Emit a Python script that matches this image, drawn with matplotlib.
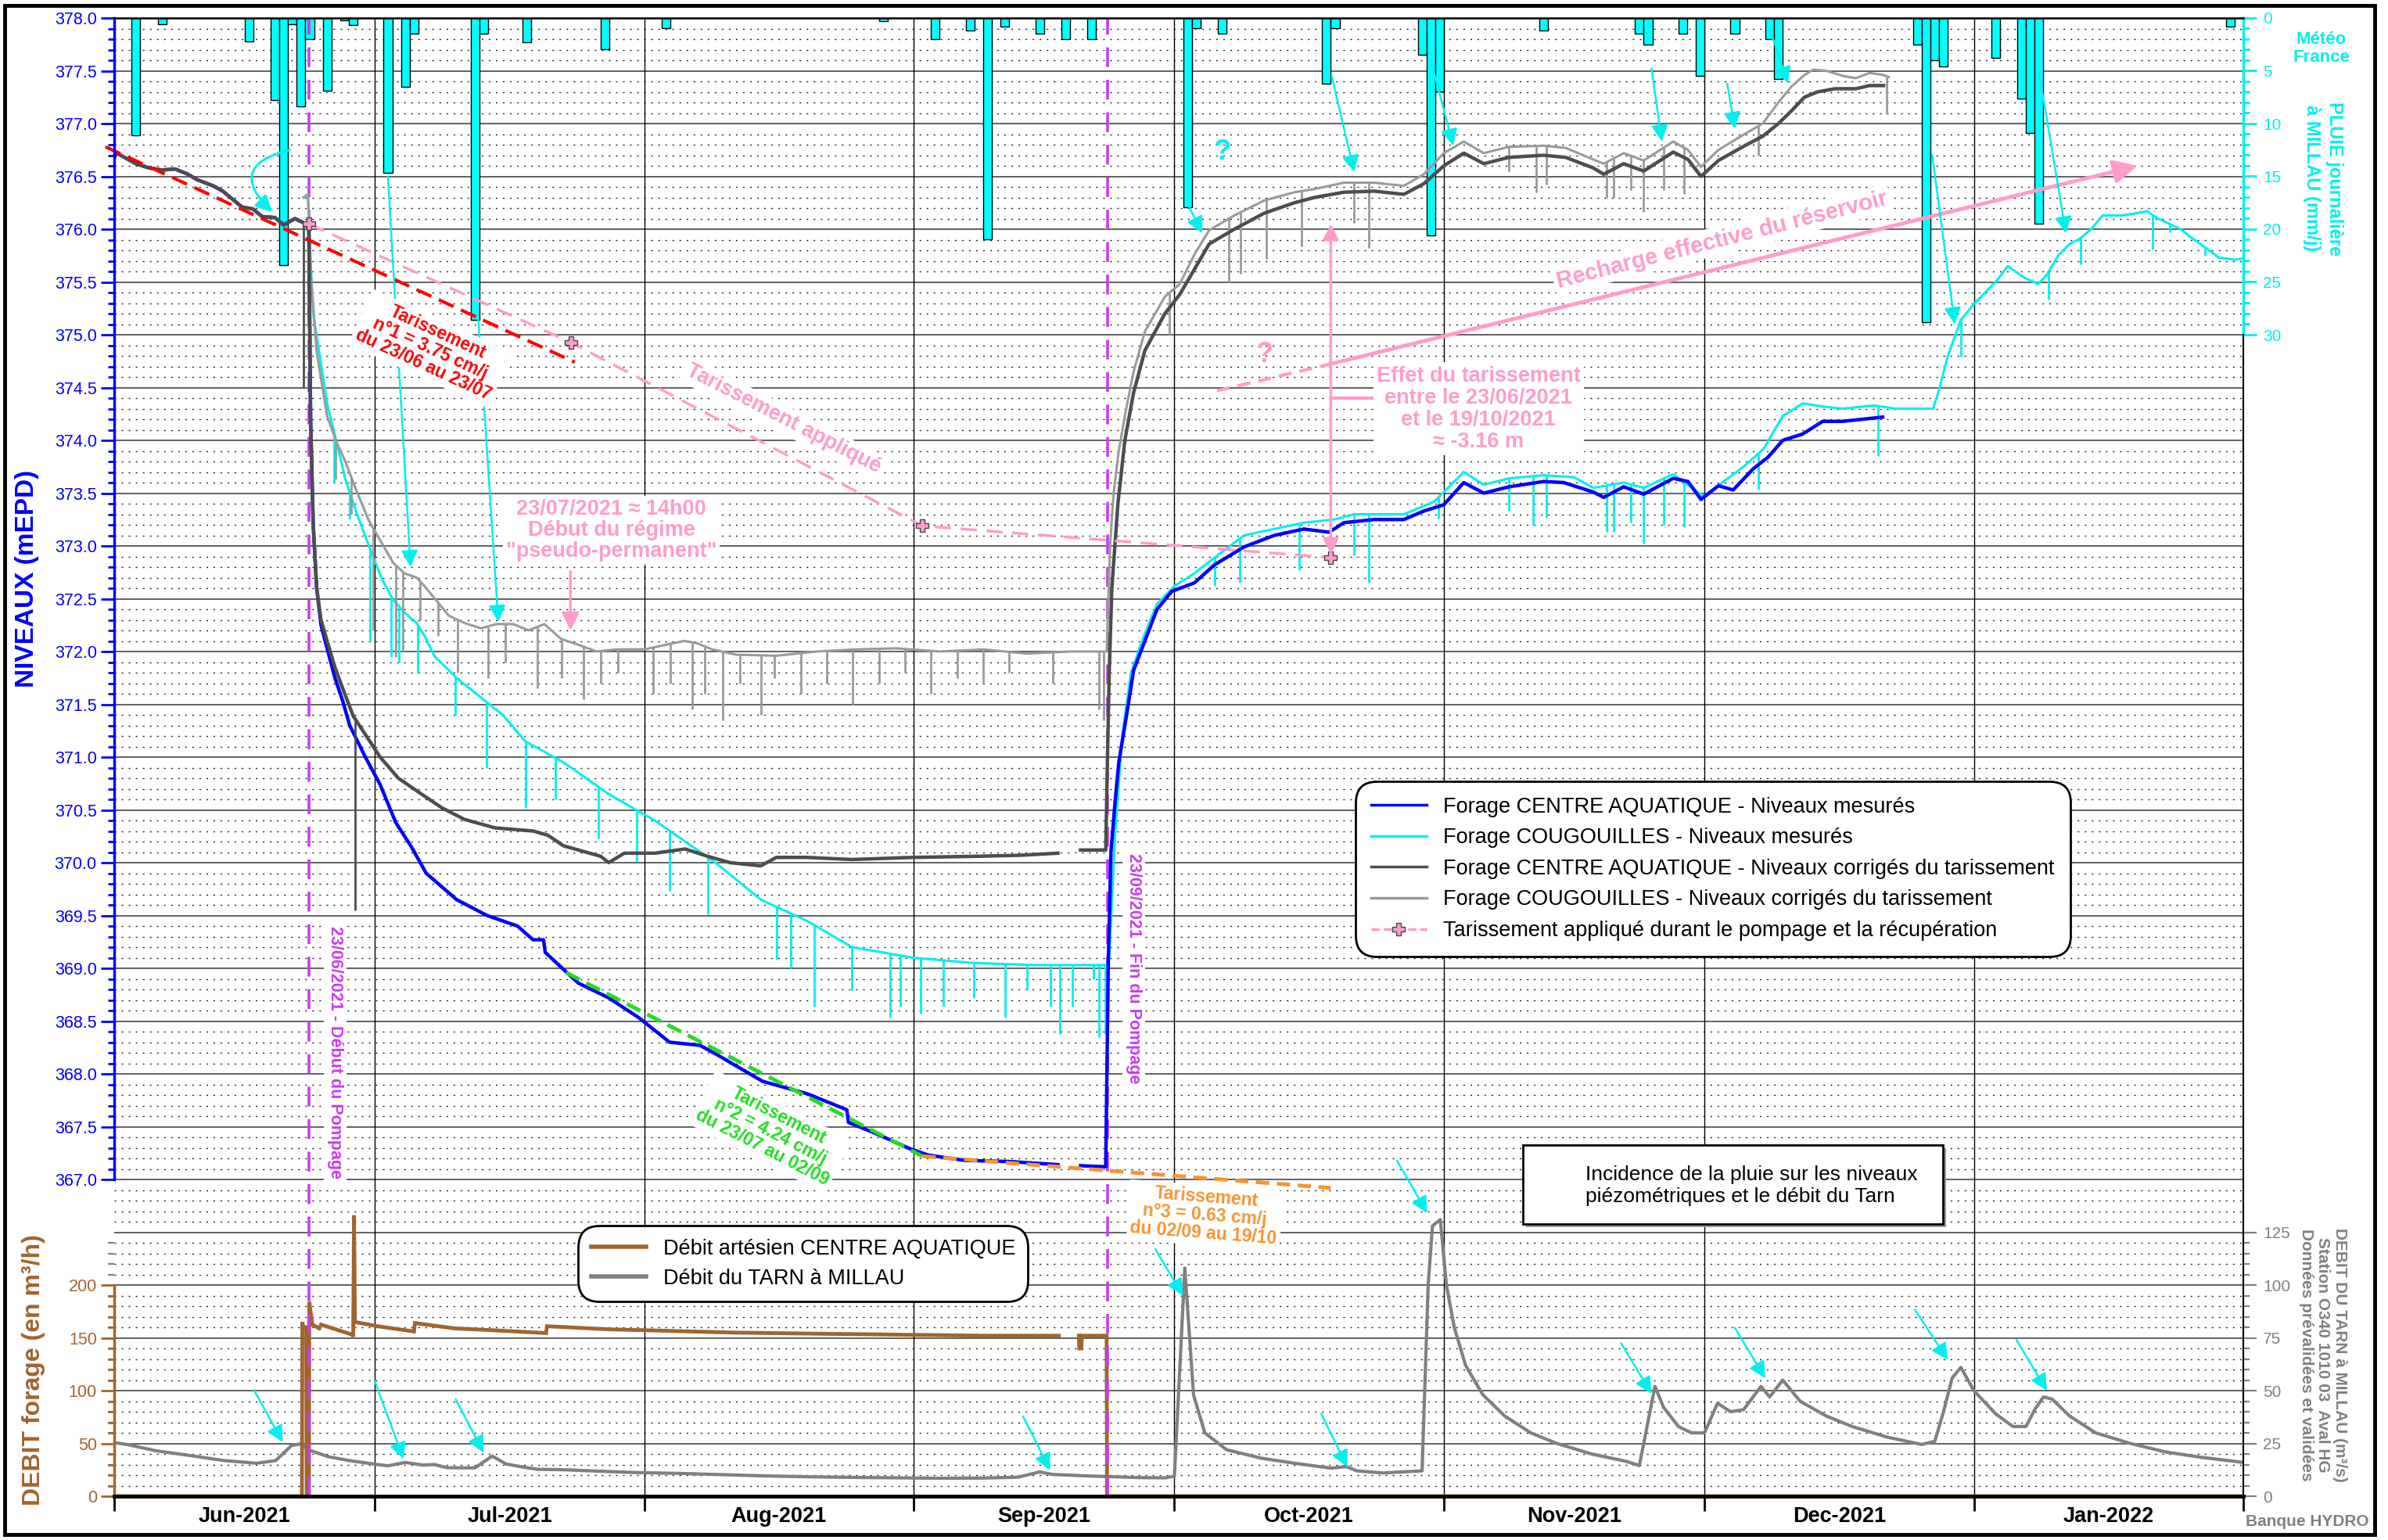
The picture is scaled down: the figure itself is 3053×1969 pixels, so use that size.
import matplotlib
matplotlib.use("Agg")
import matplotlib.dates as mdates
import matplotlib.pyplot as plt
import numpy as np
import pandas as pd
from matplotlib.lines import Line2D
from matplotlib.patches import Rectangle

plt.rcParams["font.family"] = ["Liberation Sans", "DejaVu Sans"]

START = pd.Timestamp("2021-06-01")
END = pd.Timestamp("2022-02-01")
PUMP_START = 22.4   # 23/06/2021 (days after 01/06/2021)
PUMP_END = 114.3    # 23/09/2021

# daily rain at Millau, (day index, mm)
rain = [(2, 11.1), (5, 0.6), (15, 2.2), (18, 7.8), (19, 23.4), (20, 0.6), (21, 8.4),
        (22, 2.0), (24, 6.9), (26, 0.2), (27, 0.7), (31, 14.7), (33, 6.5), (34, 1.5),
        (41, 28.6), (42, 1.5), (47, 2.3), (56, 3.0), (63, 1.0), (88, 0.3), (94, 2.0),
        (98, 1.2), (100, 21.0), (102, 0.8), (106, 1.5), (109, 2.0), (112, 2.0),
        (123, 17.9), (124, 1.0), (127, 1.5), (139, 6.2), (140, 1.0), (150, 3.5),
        (151, 20.6), (152, 7.0), (164, 1.2), (175, 1.5), (176, 2.5), (180, 1.5),
        (182, 5.5), (186, 1.5), (190, 2.0), (191, 5.8), (207, 2.5), (208, 28.8),
        (209, 4.0), (210, 4.6), (216, 3.8), (219, 7.6), (220, 10.9), (221, 19.5),
        (243, 0.8)]

# levels before pumping (both CENTRE AQUATIQUE series)
pre_pump = [(0, 376.68), (0.3, 376.72), (2.5, 376.62), (4, 376.58), (5.5, 376.56),
            (7, 376.57), (8.5, 376.52), (9.5, 376.47), (11.4, 376.41), (12.5, 376.36),
            (14.7, 376.21), (16, 376.19), (17, 376.12), (18.5, 376.11), (19.5, 376.04),
            (20.8, 376.1), (21.8, 376.06), (22.3, 376.02)]

centre_mes = [(22.4, 376.02), (22.6, 374.2), (22.9, 373.2), (23.3, 372.6), (23.8, 372.25),
              (24.5, 372.03), (25.4, 371.75), (26.3, 371.53), (27.1, 371.3), (28.9, 371.0),
              (30.6, 370.74), (32.4, 370.38), (34.2, 370.15), (35.9, 369.9), (39.4, 369.65),
              (42.9, 369.5), (46.4, 369.4), (48.2, 369.27), (49.4, 369.27), (49.6, 369.15),
              (53.4, 368.86), (56.9, 368.72), (60.4, 368.53), (63.9, 368.3), (67.4, 368.27),
              (69.4, 368.18), (74.6, 367.93), (79.8, 367.81), (84.3, 367.66), (84.5, 367.54),
              (87.5, 367.44), (91.6, 367.29), (93.7, 367.23), (97.9, 367.18), (103.0, 367.17),
              (108.6, 367.14), (110.0, np.nan), (111.2, 367.13), (114.1, 367.12),
              (114.4, 369.1), (114.7, 370.1), (115.2, 370.6), (115.6, 370.95), (116.5, 371.4),
              (117.3, 371.82), (118.6, 372.1), (120.0, 372.4), (121.7, 372.57), (124.3, 372.65),
              (126.6, 372.82), (130.0, 372.99), (133.5, 373.1), (136.9, 373.16), (139.8, 373.13),
              (141.5, 373.22), (145.0, 373.25), (148.4, 373.25), (150.7, 373.33), (153.0, 373.39),
              (155.3, 373.6), (157.6, 373.5), (160.5, 373.56), (164.5, 373.61), (166.8, 373.6),
              (170.2, 373.51), (171.4, 373.46), (173.7, 373.56), (176.0, 373.49), (179.4, 373.64),
              (181.1, 373.61), (182.6, 373.44), (184.6, 373.57), (186.3, 373.53), (188.6, 373.73),
              (190.3, 373.84), (192.0, 374.0), (194.3, 374.06), (196.6, 374.18), (198.9, 374.18),
              (201.2, 374.2), (203.5, 374.22)]

centre_cor = [(22.4, 376.02), (22.6, 374.2), (22.9, 373.2), (23.3, 372.6), (23.8, 372.3),
              (24.5, 372.1), (25.4, 371.85), (26.3, 371.65), (27.5, 371.39), (30.6, 371.0),
              (32.7, 370.8), (35.0, 370.67), (37.7, 370.52), (40.3, 370.41), (43.8, 370.33),
              (48.2, 370.3), (49.9, 370.26), (51.7, 370.16), (56.0, 370.06), (56.9, 370.0),
              (58.7, 370.09), (62.2, 370.09), (65.7, 370.13), (68.3, 370.06), (70.9, 370.0),
              (74.4, 369.97), (76.2, 370.05), (79.7, 370.05), (84.9, 370.03), (91.9, 370.05),
              (98.9, 370.06), (104.2, 370.07), (108.6, 370.09), (110.0, np.nan), (111.2, 370.12),
              (114.1, 370.12), (114.3, 371.0), (114.5, 371.8), (114.8, 372.6), (115.5, 373.4),
              (116.3, 374.0), (117.3, 374.45), (118.6, 374.85), (120.9, 375.2), (122.6, 375.38),
              (124.3, 375.62), (126.0, 375.86), (128.9, 376.0), (132.3, 376.15), (135.8, 376.25),
              (138.1, 376.3), (141.5, 376.35), (145.0, 376.36), (148.4, 376.33), (150.7, 376.43),
              (153.0, 376.6), (155.3, 376.72), (157.6, 376.62), (160.5, 376.68), (164.5, 376.7),
              (167.0, 376.68), (170.2, 376.58), (171.4, 376.52), (173.7, 376.62), (176.0, 376.55),
              (179.4, 376.73), (181.1, 376.66), (182.6, 376.5), (184.6, 376.65), (187.4, 376.78),
              (189.7, 376.88), (191.5, 377.0), (193.0, 377.12), (194.5, 377.25), (196.0, 377.3),
              (198.0, 377.33), (200.4, 377.33), (202.0, 377.36), (203.6, 377.36)]
centre_cor_spikes = [(21.8, 374.5), (27.7, 369.55)]

cougouilles_mes = [(21.8, 376.3), (22.3, 376.33), (22.6, 375.7), (22.9, 375.2), (23.8, 374.72),
                   (24.5, 374.35), (25.6, 373.98), (26.6, 373.63), (27.9, 373.31), (29.5, 372.96),
                   (30.9, 372.67), (32.1, 372.49), (33.4, 372.37), (34.8, 372.27), (35.7, 372.15),
                   (36.9, 371.95), (39.4, 371.75), (44.7, 371.4), (47.3, 371.15), (51.7, 370.95),
                   (56.9, 370.65), (62.2, 370.4), (69.2, 370.0), (74.4, 369.65), (79.7, 369.45),
                   (84.9, 369.2), (91.9, 369.1), (98.9, 369.05), (105.9, 369.03), (114.2, 369.03),
                   (114.5, 369.1), (115.2, 370.3), (116.0, 371.2), (117.0, 371.8), (118.5, 372.15),
                   (120.0, 372.45), (122.0, 372.62), (124.3, 372.74), (126.0, 372.85), (130.0, 373.1),
                   (136.9, 373.22), (140.4, 373.25), (142.7, 373.3), (148.4, 373.3), (151.9, 373.42),
                   (155.3, 373.7), (157.6, 373.58), (160.5, 373.64), (164.5, 373.67), (168.0, 373.65),
                   (170.2, 373.55), (173.7, 373.6), (176.0, 373.55), (179.4, 373.68), (182.9, 373.47),
                   (185.2, 373.61), (187.5, 373.75), (189.8, 373.92), (192.0, 374.23), (194.3, 374.35),
                   (196.6, 374.32), (198.9, 374.3), (202.5, 374.33), (205.0, 374.3), (207.0, 374.3),
                   (209.3, 374.3), (210.0, 374.48), (211.0, 374.8), (212.5, 375.14), (214.0, 375.29),
                   (216.6, 375.51), (217.9, 375.65), (219.8, 375.54), (221.4, 375.48), (222.4, 375.57),
                   (223.7, 375.75), (225.0, 375.86), (226.2, 375.91), (227.5, 376.0), (228.8, 376.13),
                   (231.0, 376.13), (232.6, 376.15), (233.9, 376.17), (235.2, 376.1), (236.5, 376.05),
                   (237.8, 376.0), (239.0, 375.92), (240.6, 375.83), (242.2, 375.73), (244.1, 375.71),
                   (244.9, 375.72)]
cougouilles_mes_spikes = [(25.3, 373.6), (27.1, 373.25), (29.4, 372.1), (31.9, 371.95), (32.8, 371.9),
                          (34.9, 371.8), (39.2, 371.4), (42.8, 370.9), (47.3, 370.52), (50.8, 370.6),
                          (55.7, 370.23), (60.1, 370.01), (63.9, 369.73), (68.3, 369.51), (76.2, 369.08),
                          (77.9, 369.0), (80.6, 368.64), (84.9, 368.79), (89.3, 368.53), (90.5, 368.64),
                          (92.8, 368.57), (95.4, 368.64), (98.9, 368.72), (102.5, 368.53), (105.0, 368.8),
                          (107.7, 368.64), (108.8, 368.38), (110.3, 368.64), (112.7, 368.9), (113.3, 368.35),
                          (114.0, 368.38), (126.6, 372.62), (129.5, 372.65), (136.4, 372.77), (142.7, 372.91),
                          (144.4, 372.65), (152.4, 373.26), (160.5, 373.33), (163.3, 373.2), (164.8, 373.27),
                          (171.7, 373.13), (172.5, 373.13), (174.5, 373.22), (176.0, 373.02), (178.3, 373.2),
                          (180.6, 373.18), (189.2, 373.53), (203.0, 373.85), (212.5, 374.79), (222.6, 375.33),
                          (226.3, 375.67), (234.6, 375.81), (236.5, 375.97), (240.6, 375.75)]

cougouilles_cor = [(21.8, 376.3), (22.3, 376.33), (22.6, 375.6), (23.3, 374.84), (24.5, 374.23),
                   (25.6, 373.98), (26.6, 373.8), (27.7, 373.56), (29.3, 373.24), (30.7, 373.04),
                   (32.1, 372.84), (33.4, 372.74), (34.8, 372.7), (35.7, 372.62), (36.9, 372.5),
                   (38.5, 372.34), (40.3, 372.27), (42.2, 372.22), (44.0, 372.26), (45.9, 372.26),
                   (47.7, 372.2), (49.5, 372.26), (51.4, 372.12), (53.2, 372.07), (55.5, 372.0),
                   (57.8, 372.02), (61.0, 372.02), (63.8, 372.07), (65.6, 372.1), (67.0, 372.08),
                   (68.8, 372.02), (71.6, 371.97), (76.2, 371.96), (80.8, 372.0), (85.4, 372.02),
                   (90.0, 372.03), (95.0, 372.0), (100.0, 372.02), (105.0, 371.98), (110.0, 372.0),
                   (114.2, 372.0), (114.6, 373.0), (115.0, 373.5), (115.6, 373.9), (116.3, 374.23),
                   (117.3, 374.65), (118.6, 375.03), (120.9, 375.36), (122.6, 375.48), (124.3, 375.76),
                   (126.0, 375.99), (128.9, 376.13), (132.3, 376.27), (135.8, 376.35), (138.1, 376.38),
                   (141.5, 376.44), (145.0, 376.44), (148.4, 376.41), (150.7, 376.52), (153.0, 376.72),
                   (155.3, 376.83), (157.6, 376.72), (160.5, 376.78), (164.5, 376.79), (167.0, 376.77),
                   (170.2, 376.66), (171.4, 376.62), (173.7, 376.72), (176.0, 376.65), (179.4, 376.83),
                   (181.1, 376.75), (182.6, 376.59), (184.6, 376.75), (187.4, 376.89), (189.7, 377.0),
                   (191.5, 377.2), (193.0, 377.35), (194.5, 377.46), (195.5, 377.51), (197.0, 377.5),
                   (199.0, 377.45), (200.4, 377.43), (202.0, 377.48), (203.6, 377.46), (204.2, 377.44)]
cougouilles_cor_spikes = [(25.5, 373.63), (27.3, 373.3), (29.8, 372.2), (32.4, 371.95), (33.2, 372.0),
                          (35.2, 372.3), (37.3, 372.15), (39.5, 371.8), (43.0, 371.75), (45.0, 371.9),
                          (48.7, 371.65), (51.5, 371.75), (54.0, 371.55), (56.0, 371.7), (58.0, 371.8),
                          (62.0, 371.6), (64.0, 371.7), (66.5, 371.45), (68.0, 371.6), (70.0, 371.35),
                          (72.0, 371.7), (74.4, 371.4), (76.0, 371.75), (79.0, 371.6), (82.0, 371.7),
                          (85.0, 371.5), (88.0, 371.7), (91.0, 371.8), (94.0, 371.6), (97.0, 371.75),
                          (100.0, 371.7), (103.0, 371.8), (108.0, 371.7), (113.3, 371.45), (113.9, 371.35),
                          (121.4, 375.0), (128.3, 375.5), (129.6, 375.58), (132.6, 375.72), (136.6, 375.84),
                          (142.7, 376.06), (144.4, 375.82), (160.5, 376.55), (163.6, 376.35), (164.8, 376.42),
                          (171.7, 376.3), (172.5, 376.3), (174.5, 376.37), (176.0, 376.16), (178.3, 376.37),
                          (180.6, 376.33), (189.2, 376.7), (204.0, 377.09)]

# artesian flow of the CENTRE AQUATIQUE well (m3/h)
forage = [(0, 0), (21.6, 0), (21.65, 165), (21.75, 160), (22.1, 160), (22.15, 0), (22.4, 0),
          (22.45, 184), (22.8, 162.5), (23.6, 159), (23.8, 162.5), (27.4, 153), (27.5, 151),
          (27.6, 266), (27.7, 165), (30.3, 161), (34.5, 156), (34.6, 164), (39.1, 159),
          (44.0, 157), (49.7, 154.5), (49.8, 161), (57.0, 158), (62.0, 157), (71.0, 155),
          (80.0, 154), (90.0, 153), (100.0, 152), (108.7, 152), (109.0, np.nan), (111.0, 152),
          (111.05, 140), (111.3, 140), (111.35, 152), (114.2, 152), (114.25, 0), (245, 0)]

# Tarn flow at Millau (m3/s)
tarn = [(0, 25.4), (1.6, 24.4), (4.8, 21.5), (8.5, 19.4), (12.6, 16.9), (16.4, 15.6), (18.6, 16.9),
        (20.4, 24.0), (21.4, 24.75), (22.4, 21.9), (24.6, 18.75), (27.0, 16.9), (30.3, 15.0),
        (31.5, 14.4), (33.5, 16.0), (35.5, 14.75), (36.8, 15.0), (38.3, 13.5), (41.5, 13.4),
        (43.5, 19.0), (45.1, 15.25), (47.1, 13.75), (48.7, 12.75), (52, 12.5), (56, 11.8),
        (60, 11.2), (65, 10.8), (70, 10.2), (75, 9.6), (80, 9.2), (85, 8.9), (90, 8.7), (95, 8.5),
        (100, 8.6), (104, 9.0), (106.5, 11.5), (108, 10.3), (112, 9.6), (118, 8.8), (121, 8.7),
        (122, 9.5), (123.2, 108), (124.2, 48), (125.5, 30), (128, 22), (132, 18), (136, 15.5),
        (140, 13.3), (141.8, 14), (143, 12), (146, 11), (150.5, 12), (151.2, 100), (151.7, 128),
        (152.6, 131), (153.3, 100), (154.2, 80), (155.5, 62), (157.5, 48), (160, 38), (163, 30),
        (166, 25), (170, 20), (174, 16.5), (175.5, 14.5), (177.3, 52), (178.3, 42), (180, 33),
        (181.5, 30), (183, 30), (184.5, 44), (186, 40), (187.5, 41), (189.5, 52), (190.5, 47),
        (192, 55), (194, 45), (197, 38), (200, 33), (204, 28), (208, 24.5), (209.5, 26),
        (210.5, 40), (211.5, 56), (212.5, 61), (214, 50), (216.5, 39), (218.5, 33), (220, 33),
        (221, 41), (222, 47), (223, 46), (225, 38), (228, 30), (232, 25), (236, 21), (240, 18.5),
        (245, 16)]

# drawdown trends (day, level)
tar1 = [(-1.0, 376.78), (53.0, 374.74)]
tar2 = [(52.0, 368.96), (93.0, 367.22)]
tar3 = [(93.0, 367.22), (140.0, 366.92)]
tar_applique = [(22.4, 376.05), (52.6, 374.925), (93.0, 373.19), (140.0, 372.89)]
recharge_dash = [(126.9, 374.47), (139.8, 374.72)]
recharge_arrow = [(139.8, 374.72), (232.8, 376.6)]

# rain incidence arrows, upper panel (levels) and lower panel (Tarn flow)
rain_arrows_lvl = [(31.5, 376.5, 34.1, 372.8), (41.9, 375.15, 44.2, 372.28),
                   (123.7, 376.21, 125.2, 375.96), (140.1, 377.45, 142.7, 376.54),
                   (151.5, 377.6, 154.1, 376.79), (176.9, 377.52, 178.1, 376.83),
                   (185.6, 377.38, 186.5, 376.95), (190.5, 377.9, 192.6, 377.38),
                   (209.2, 376.7, 211.8, 375.1), (221.5, 377.48, 224.6, 375.96)]
rain_arrows_q = [(16.1, 50.2, 19.4, 25.5), (30.0, 54.3, 33.3, 17.5), (39.3, 45.9, 42.5, 20.6),
                 (104.6, 37.7, 107.7, 12.3), (119.8, 117, 123.0, 95), (138.9, 39, 141.9, 13.8),
                 (147.6, 159, 151.1, 134), (173.4, 72.5, 176.9, 48.5), (186.5, 79.7, 190.0, 55.8),
                 (207.2, 88.4, 211.0, 64.5), (218.9, 74, 222.4, 50)]

BLUE = "#0000ff"
CYAN = "#00efef"
BAR = "#00ffff"
DARK = "#4d4d4d"
LIGHT = "#9a9a9a"
TARN = "#808080"
BROWN = "#a0652e"
PINK = "#ff9cca"
PURPLE = "#c83cf2"
RED = "#ff0000"
GREEN = "#22dd22"
ORANGE = "#f7942f"

X0 = mdates.date2num(START)


def xd(days):
    return X0 + np.asarray(days, dtype=float)


def xy(pairs):
    arr = np.array(pairs, dtype=float)
    return xd(arr[:, 0]), arr[:, 1]


def curve_at(pairs, days):
    arr = np.array(pairs, dtype=float)
    ok = ~np.isnan(arr[:, 1])
    return np.interp(days, arr[ok, 0], arr[ok, 1])


W_PX, H_PX = 3053, 1969
fig = plt.figure(figsize=(W_PX / 100, H_PX / 100), dpi=100)
rect = [146 / W_PX, 1 - 1913 / H_PX, (2868 - 146) / W_PX, (1913 - 23) / H_PX]

ax_bg = fig.add_axes(rect, zorder=0)
ax_r = fig.add_axes(rect, zorder=1)
ax_q = fig.add_axes(rect, zorder=2)
ax_f = fig.add_axes(rect, zorder=2)
ax = fig.add_axes(rect, zorder=3)

xmin, xmax = mdates.date2num(START), mdates.date2num(END)
for a in (ax_bg, ax_r, ax_q, ax_f, ax):
    a.set_xlim(xmin, xmax)
    a.set_facecolor("none")
    for s in a.spines.values():
        s.set_visible(False)
    a.tick_params(bottom=False, labelbottom=False, left=False, labelleft=False)
ax_bg.set_facecolor("white")

# background grid
ax_bg.set_ylim(364, 378)
major = np.arange(364.5, 378, 0.5)
minor = [v for v in np.round(np.arange(364.1, 378, 0.1), 1) if abs(v * 2 - round(v * 2)) > 1e-6]
ax_bg.hlines(minor, xmin, xmax, colors="#222222", lw=1.0, linestyles=(0, (1.5, 5)))
ax_bg.hlines(major, xmin, xmax, colors="#555555", lw=1.3)
month_starts = pd.date_range(START, END, freq="MS")
ax_bg.vlines(mdates.date2num(month_starts[1:-1]), 364, 378, colors="black", lw=1.0)
ax_bg.set_yticks([])
ax_bg.set_xticks([])

# rain bars hanging from the top
ax_r.set_ylim(140, 0)
r = np.array(rain, dtype=float)
ax_r.bar(xd(r[:, 0]), r[:, 1], width=1.0, align="edge", color=BAR, edgecolor="black", lw=1.0)
ax_r.spines["right"].set_visible(True)
ax_r.spines["right"].set_bounds(0, 30)
ax_r.spines["right"].set_color(CYAN)
ax_r.spines["right"].set_linewidth(2.5)
ax_r.set_yticks(np.arange(0, 31, 5))
ax_r.set_yticks(np.arange(0, 31, 1), minor=True)
ax_r.tick_params(axis="y", which="both", right=True, labelright=True, left=False, labelleft=False,
                 colors=CYAN, direction="out")
ax_r.tick_params(axis="y", which="major", length=12, width=2, labelsize=15, pad=6)
ax_r.tick_params(axis="y", which="minor", length=6, width=2, labelright=False)

# Tarn flow
ax_q.set_ylim(0, 700)
tq = np.array(tarn, dtype=float)
ax_q.plot(xd(tq[:, 0]), tq[:, 1], color=TARN, lw=3)
ax_q.spines["right"].set_visible(True)
ax_q.spines["right"].set_bounds(0, 125)
ax_q.spines["right"].set_color("black")
ax_q.spines["right"].set_linewidth(1.5)
ax_q.set_yticks(np.arange(0, 126, 25))
ax_q.set_yticks(np.arange(0, 126, 5), minor=True)
ax_q.tick_params(axis="y", which="both", right=True, labelright=True, colors=TARN, direction="out")
ax_q.tick_params(axis="y", which="major", length=12, width=1.6, labelsize=15, pad=6)
ax_q.tick_params(axis="y", which="minor", length=6, width=1.6, labelright=False)
for x0, q0, x1, q1 in rain_arrows_q:
    ax_q.annotate("", xy=(xd(x1), q1), xytext=(xd(x0), q0),
                  arrowprops=dict(arrowstyle="-|>", color=CYAN, lw=1.8, mutation_scale=32,
                                  shrinkA=0, shrinkB=0))

# artesian flow of the well
ax_f.set_ylim(0, 1400)
fx, fy = xy(forage)
ax_f.plot(fx, fy, color=BROWN, lw=3.5, solid_joinstyle="miter")
ax_f.spines["left"].set_visible(True)
ax_f.spines["left"].set_bounds(0, 200)
ax_f.spines["left"].set_color(BROWN)
ax_f.spines["left"].set_linewidth(2.5)
ax_f.set_yticks(np.arange(0, 201, 50))
ax_f.set_yticks(np.arange(0, 201, 10), minor=True)
ax_f.tick_params(axis="y", which="both", left=True, labelleft=True, colors=BROWN, direction="out")
ax_f.tick_params(axis="y", which="major", length=12, width=2, labelsize=15.5, pad=4)
ax_f.tick_params(axis="y", which="minor", length=6, width=2, labelleft=False)

# piezometric levels
ax.set_ylim(364, 378)
for d in (PUMP_START, PUMP_END):
    ax.vlines(xd(d), 364, 378, colors=PURPLE, lw=2.6, linestyles=(0, (7, 4.5)), zorder=1.5)

cx, cy = xy(cougouilles_mes)
ax.plot(cx, cy, color=CYAN, lw=2.2)
sd = np.array(cougouilles_mes_spikes)
ax.vlines(xd(sd[:, 0]), curve_at(cougouilles_mes, sd[:, 0]), sd[:, 1], colors=CYAN, lw=2.0)

bx, by = xy(pre_pump + centre_mes)
ax.plot(bx, by, color=BLUE, lw=3.2)

gx, gy = xy(cougouilles_cor)
ax.plot(gx, gy, color=LIGHT, lw=2.2)
sd = np.array(cougouilles_cor_spikes)
ax.vlines(xd(sd[:, 0]), curve_at(cougouilles_cor, sd[:, 0]), sd[:, 1], colors=LIGHT, lw=2.0)

kx, ky = xy(pre_pump + centre_cor)
ax.plot(kx, ky, color=DARK, lw=3.2)
sd = np.array(centre_cor_spikes)
ax.vlines(xd(sd[:, 0]), curve_at(pre_pump + centre_cor, sd[:, 0]), sd[:, 1], colors=DARK, lw=2.0)

# drawdown trend lines
tx, ty = xy(tar1)
ax.plot(tx, ty, color=RED, lw=3, dashes=(5, 2.5), clip_on=False)
tx, ty = xy(tar2)
ax.plot(tx, ty, color=GREEN, lw=3.5, dashes=(4, 2))
tx, ty = xy(tar3)
ax.plot(tx, ty, color=ORANGE, lw=3.5, dashes=(3.5, 2))
tx, ty = xy(tar_applique)
ax.plot(tx, ty, color=PINK, lw=2.5, dashes=(6, 3.5), marker="P", markersize=11,
        markerfacecolor=PINK, markeredgecolor="#444444", markeredgewidth=1.0)

# recharge of the reservoir
tx, ty = xy(recharge_dash)
ax.plot(tx, ty, color=PINK, lw=3, dashes=(4, 2.5))
(ra, rb) = recharge_arrow
ax.annotate("", xy=(xd(rb[0]), rb[1]), xytext=(xd(ra[0]), ra[1]),
            arrowprops=dict(arrowstyle="-|>", color=PINK, lw=3.5, mutation_scale=45,
                            shrinkA=0, shrinkB=0))

# total drawdown effect on 19/10
ax.annotate("", xy=(xd(140), tar_applique[0][1]), xytext=(xd(140), tar_applique[-1][1] + 0.03),
            arrowprops=dict(arrowstyle="<|-|>", color=PINK, lw=2.5, mutation_scale=30,
                            shrinkA=0, shrinkB=0))
ax.plot(xd([140, 144.7]), [374.4, 374.4], color=PINK, lw=3)

# start of the pseudo-steady regime
ax.annotate("", xy=(xd(52.5), 372.2), xytext=(xd(52.5), 372.76),
            arrowprops=dict(arrowstyle="-|>", color=PINK, lw=2.5, mutation_scale=34,
                            shrinkA=0, shrinkB=0))

# rain incidence arrows on the levels
for x0, y0, x1, y1 in rain_arrows_lvl:
    ax.annotate("", xy=(xd(x1), y1), xytext=(xd(x0), y0),
                arrowprops=dict(arrowstyle="-|>", color=CYAN, lw=1.8, mutation_scale=32,
                                shrinkA=0, shrinkB=0))
ax.annotate("", xy=(xd(18.2), 376.16), xytext=(xd(20.2), 376.75),
            arrowprops=dict(arrowstyle="-|>", color=CYAN, lw=2.2, mutation_scale=32,
                            shrinkA=0, shrinkB=0, connectionstyle="arc3,rad=0.9"))

white = dict(facecolor="white", edgecolor="none", pad=3)
ax.text(xd(36.4), 374.87, "Tarissement\nn°1 = 3.75 cm/j\ndu 23/06 au 23/07", color=RED,
        fontsize=16.5, fontweight="bold", rotation=-24.7, rotation_mode="anchor",
        ha="center", va="center", linespacing=1.0, bbox=white, zorder=6)
ax.text(xd(77), 374.2, "Tarissement appliqué", color=PINK, fontsize=19.5, fontweight="bold",
        rotation=-27.2, rotation_mode="anchor", ha="center", va="center", bbox=white, zorder=6)
ax.text(xd(57.2), 373.15, "23/07/2021 ≈ 14h00\nDébut du régime\n\"pseudo-permanent\"", color=PINK,
        fontsize=19.5, fontweight="bold", ha="center", va="center", linespacing=1.05,
        bbox=white, zorder=6)
ax.text(xd(75.5), 367.45, "Tarissement\nn°2 = 4.24 cm/j\ndu 23/07 au 02/09", color=GREEN,
        fontsize=16.5, fontweight="bold", rotation=-27.2, rotation_mode="anchor",
        ha="center", va="center", linespacing=1.0, bbox=white, zorder=6)
ax.text(xd(125.5), 366.66, "Tarissement\nn°3 = 0.63 cm/j\ndu 02/09 au 19/10", color=ORANGE,
        fontsize=16.5, fontweight="bold", rotation=-4.4, rotation_mode="anchor",
        ha="center", va="center", linespacing=1.0, bbox=white, zorder=6)
ax.text(xd(157), 374.3, "Effet du tarissement\nentre le 23/06/2021\net le 19/10/2021\n≈ -3.16 m",
        color=PINK, fontsize=19.5, fontweight="bold", ha="center", va="center", linespacing=1.1,
        bbox=white, zorder=6)
ax.text(xd(185), 375.9, "Recharge effective du réservoir", color=PINK, fontsize=21,
        fontweight="bold", rotation=14.2, rotation_mode="anchor", ha="center", va="center",
        bbox=white, zorder=6)
ax.text(xd(127.5), 376.73, "?", color=CYAN, fontsize=26, fontweight="bold", ha="center",
        va="center", zorder=6)
ax.text(xd(132.3), 374.81, "?", color=PINK, fontsize=26, fontweight="bold", ha="center",
        va="center", zorder=6)
ax.text(xd(25.4), 368.2, "23/06/2021 - Début du Pompage", color=PURPLE, fontsize=15.5,
        fontweight="bold", rotation=-90, ha="center", va="center", bbox=white, zorder=6)
ax.text(xd(117.3), 369.0, "23/09/2021 - Fin du Pompage", color=PURPLE, fontsize=15.5,
        fontweight="bold", rotation=-90, ha="center", va="center", bbox=white, zorder=6)

# axes decoration of the levels panel
ax.spines["left"].set_visible(True)
ax.spines["left"].set_bounds(367, 378)
ax.spines["left"].set_color(BLUE)
ax.spines["left"].set_linewidth(2.5)
ax.spines["top"].set_visible(True)
ax.spines["top"].set_linewidth(1.8)
ax.spines["bottom"].set_visible(True)
ax.spines["bottom"].set_linewidth(3.5)
ax.spines["right"].set_visible(True)
ax.spines["right"].set_bounds(364, 375)
ax.spines["right"].set_linewidth(1.5)
ax.set_yticks(np.arange(367, 378.01, 0.5))
ax.set_yticks(np.arange(367, 378.01, 0.1), minor=True)
ax.yaxis.set_major_formatter(matplotlib.ticker.FormatStrFormatter("%.1f"))
ax.tick_params(axis="y", which="both", left=True, labelleft=True, colors=BLUE, direction="out")
ax.tick_params(axis="y", which="major", length=12, width=2, labelsize=15.5, pad=4)
ax.tick_params(axis="y", which="minor", length=6, width=2, labelleft=False)

ax.set_xticks(mdates.date2num(month_starts))
centers = month_starts[:-1] + (month_starts[1:] - month_starts[:-1]) / 2
ax.set_xticks(mdates.date2num(centers), minor=True)
ax.set_xticklabels([])
ax.set_xticklabels([m.strftime("%b-%Y") for m in month_starts[:-1]], minor=True)
ax.tick_params(axis="x", which="major", bottom=True, length=14, width=2, direction="out")
ax.tick_params(axis="x", which="minor", bottom=True, labelbottom=True, length=0, labelsize=19.5, pad=9)
for lbl in ax.get_xticklabels(minor=True):
    lbl.set_fontweight("bold")

# legends
h1 = [Line2D([], [], color=BLUE, lw=2.5), Line2D([], [], color=CYAN, lw=2.5),
      Line2D([], [], color=DARK, lw=2.5), Line2D([], [], color=LIGHT, lw=2.5),
      Line2D([], [], color=PINK, lw=2.5, dashes=(3, 1.5), marker="P", markersize=11,
             markerfacecolor=PINK, markeredgecolor="#444444", markeredgewidth=1.0)]
l1 = ["Forage CENTRE AQUATIQUE - Niveaux mesurés", "Forage COUGOUILLES - Niveaux mesurés",
      "Forage CENTRE AQUATIQUE - Niveaux corrigés du tarissement",
      "Forage COUGOUILLES - Niveaux corrigés du tarissement",
      "Tarissement appliqué durant le pompage et la récupération"]
leg1 = ax.legend(h1, l1, loc="upper left", bbox_to_anchor=(0.578, 0.491), fontsize=19.5,
                 handlelength=2.6, labelspacing=0.5, borderpad=0.75, handletextpad=0.8,
                 framealpha=1, edgecolor="black", fancybox=True)
leg1.get_frame().set_linewidth(2)
leg1.get_frame().set_boxstyle("round,pad=0,rounding_size=1.0")
ax.add_artist(leg1)

h2 = [Line2D([], [], color=BROWN, lw=4), Line2D([], [], color=TARN, lw=4)]
l2 = ["Débit artésien CENTRE AQUATIQUE", "Débit du TARN à MILLAU"]
leg2 = ax.legend(h2, l2, loc="upper left", bbox_to_anchor=(0.213, 0.19), fontsize=19.5,
                 handlelength=2.6, labelspacing=0.45, borderpad=0.6, handletextpad=0.8,
                 framealpha=1, edgecolor="black", fancybox=True)
leg2.get_frame().set_linewidth(2)
leg2.get_frame().set_boxstyle("round,pad=0,rounding_size=1.0")

# rain incidence key
fig.add_artist(Rectangle(((1947 + 4) / W_PX, 1 - (1565 + 4) / H_PX), 537 / W_PX, 101 / H_PX,
                         transform=fig.transFigure, facecolor="#999999", edgecolor="none", zorder=8))
fig.add_artist(Rectangle((1947 / W_PX, 1 - 1565 / H_PX), 537 / W_PX, 101 / H_PX,
                         transform=fig.transFigure, facecolor="white", edgecolor="black",
                         lw=2, zorder=8))
fig.text(2027 / W_PX, 1 - 1516 / H_PX, "Incidence de la pluie sur les niveaux\npiézométriques et le débit du Tarn",
         fontsize=19, ha="left", va="center", linespacing=1.25, zorder=9)
ax.annotate("", xy=(2003, H_PX - 1543), xytext=(1966, H_PX - 1475), xycoords="figure pixels",
            arrowprops=dict(arrowstyle="-|>", color=CYAN, lw=1.8, mutation_scale=32,
                            shrinkA=0, shrinkB=0), zorder=9)

# axis titles
fig.text(35 / W_PX, 1 - 740 / H_PX, "NIVEAUX (mEPD)", rotation=90, color=BLUE, fontsize=24,
         fontweight="bold", ha="center", va="center")
fig.text(43 / W_PX, 1 - 1752 / H_PX, "DEBIT forage (en m³/h)", rotation=90, color=BROWN,
         fontsize=23, fontweight="bold", ha="center", va="center")
fig.text(2968 / W_PX, 1 - 62 / H_PX, "Météo\nFrance", color=CYAN, fontsize=16, fontweight="bold",
         ha="center", va="center", linespacing=1.1)
fig.text(2970 / W_PX, 1 - 228 / H_PX, "PLUIE journalière\nà MILLAU (mm/j)", rotation=-90,
         color=CYAN, fontsize=17, fontweight="bold", ha="center", va="center", linespacing=1.3)
fig.text(2970 / W_PX, 1 - 1732 / H_PX,
         "DEBIT DU TARN à MILLAU (m³/s)\nStation O340 1010 03  Aval HG\nDonnées prévalidées et validées",
         rotation=-90, color=TARN, fontsize=15, fontweight="bold", ha="center", va="center",
         linespacing=1.15)
fig.text(2950 / W_PX, 1 - 1945 / H_PX, "Banque HYDRO", color=TARN, fontsize=15, fontweight="bold",
         ha="center", va="center")

fig.add_artist(Rectangle((6 / W_PX, 7 / H_PX), (3036 - 6) / W_PX, (1962 - 7) / H_PX,
                         transform=fig.transFigure, fill=False, edgecolor="black", lw=3.5))

fig.savefig("out.png", dpi=100, facecolor="white")
